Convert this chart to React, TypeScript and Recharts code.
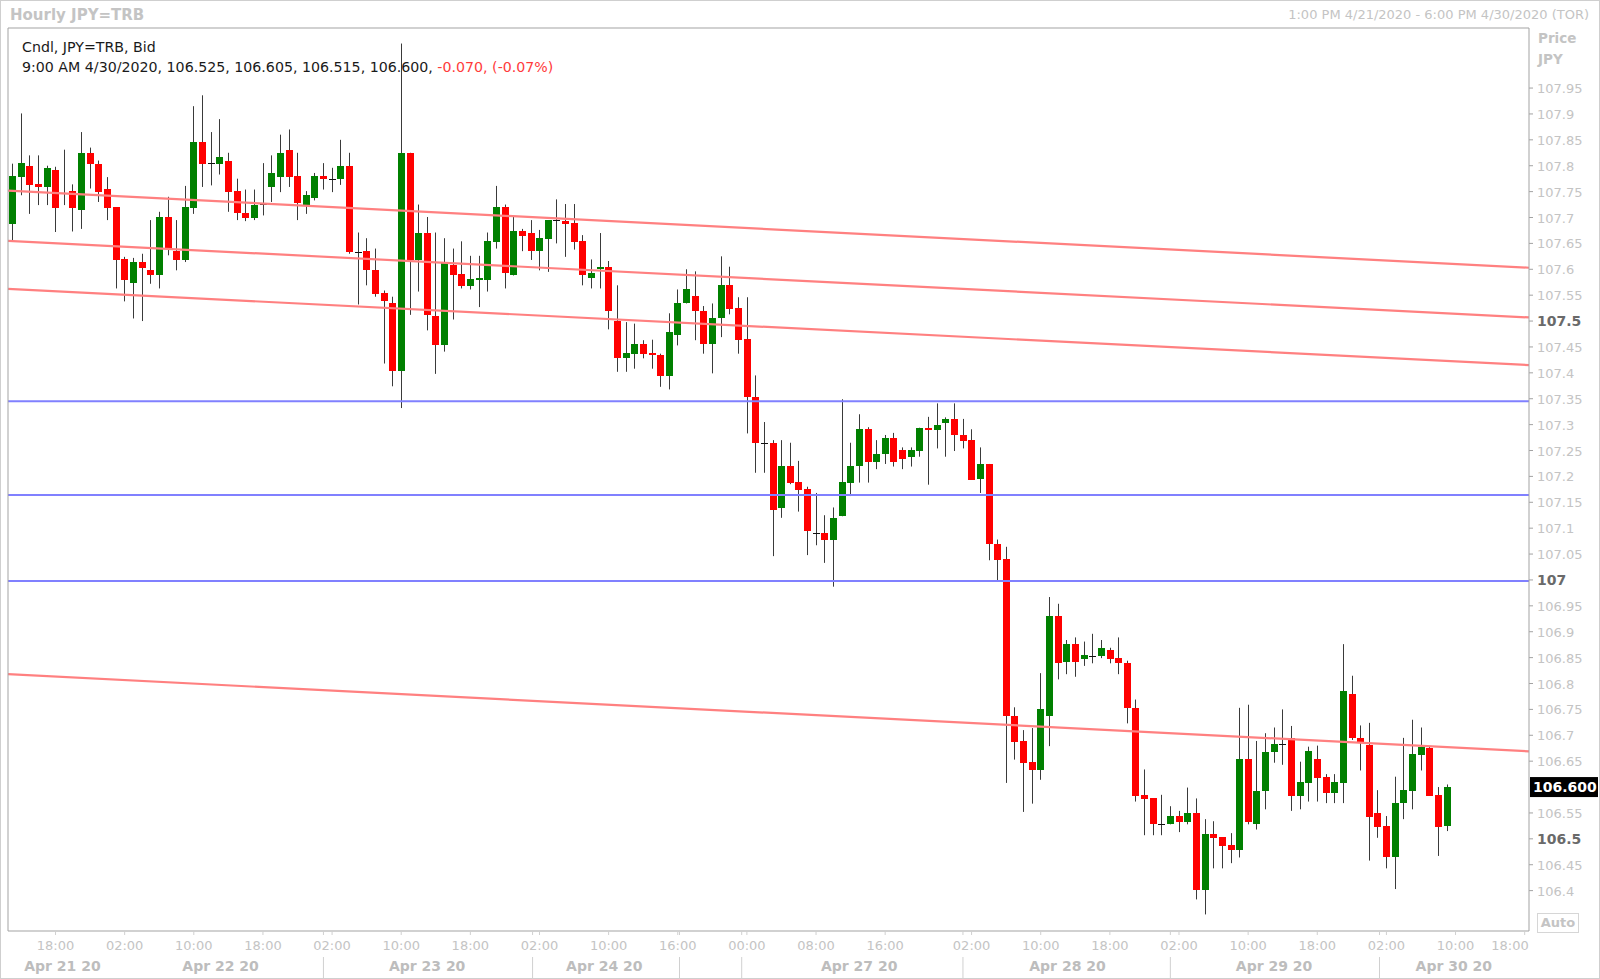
import React from 'react';
import { ComposedChart, Bar, XAxis, YAxis, ReferenceLine } from 'recharts';

// Hourly JPY=TRB bid candles, Apr 21 13:00 -> Apr 30 09:00 (trading hours only)
const OPEN = [
  107.688, 107.778, 107.800, 107.764, 107.759, 107.791, 107.748, 107.751, 107.714, 107.825,
  107.804, 107.755, 107.720, 107.619, 107.574, 107.615, 107.599, 107.588, 107.701, 107.635,
  107.617, 107.718, 107.846, 107.805, 107.804, 107.810, 107.751, 107.709, 107.699, 107.727,
  107.759, 107.778, 107.831, 107.780, 107.725, 107.738, 107.780, 107.775, 107.775, 107.800,
  107.634, 107.635, 107.598, 107.555, 107.535, 107.403, 107.825, 107.617, 107.671, 107.509,
  107.453, 107.608, 107.590, 107.568, 107.579, 107.579, 107.653, 107.720, 107.588, 107.673,
  107.671, 107.635, 107.658, 107.695, 107.693, 107.690, 107.654, 107.583, 107.600, 107.605,
  107.500, 107.429, 107.437, 107.455, 107.439, 107.435, 107.393, 107.473, 107.534, 107.549,
  107.520, 107.455, 107.505, 107.569, 107.526, 107.465, 107.354, 107.264, 107.264, 107.138,
  107.220, 107.190, 107.175, 107.090, 107.090, 107.077, 107.123, 107.188, 107.220, 107.291,
  107.228, 107.243, 107.275, 107.251, 107.238, 107.249, 107.294, 107.290, 107.304, 107.310,
  107.280, 107.270, 107.194, 107.224, 107.069, 107.040, 106.738, 106.689, 106.649, 106.633,
  106.738, 106.930, 106.842, 106.876, 106.847, 106.854, 106.854, 106.864, 106.849, 106.840,
  106.753, 106.585, 106.578, 106.528, 106.528, 106.544, 106.533, 106.549, 106.402, 106.509,
  106.503, 106.488, 106.478, 106.654, 106.528, 106.592, 106.668, 106.683, 106.694, 106.583,
  106.608, 106.654, 106.619, 106.589, 106.608, 106.780, 106.695, 106.681, 106.549, 106.524,
  106.464, 106.569, 106.592, 106.662, 106.676, 106.585, 106.525,
];
const HIGH = [
  107.804, 107.901, 107.820, 107.820, 107.800, 107.798, 107.831, 107.764, 107.865, 107.835,
  107.810, 107.778, 107.720, 107.624, 107.622, 107.630, 107.695, 107.711, 107.740, 107.695,
  107.761, 107.915, 107.936, 107.865, 107.890, 107.825, 107.775, 107.754, 107.754, 107.805,
  107.820, 107.860, 107.870, 107.825, 107.751, 107.786, 107.805, 107.796, 107.850, 107.825,
  107.671, 107.660, 107.640, 107.559, 107.547, 108.036, 107.825, 107.725, 107.701, 107.671,
  107.660, 107.640, 107.654, 107.626, 107.626, 107.671, 107.761, 107.725, 107.701, 107.678,
  107.695, 107.676, 107.695, 107.735, 107.726, 107.726, 107.666, 107.619, 107.670, 107.616,
  107.569, 107.498, 107.495, 107.463, 107.464, 107.437, 107.515, 107.561, 107.600, 107.596,
  107.529, 107.534, 107.625, 107.605, 107.546, 107.546, 107.395, 107.305, 107.270, 107.270,
  107.265, 107.230, 107.180, 107.168, 107.125, 107.140, 107.349, 107.265, 107.320, 107.295,
  107.270, 107.280, 107.284, 107.256, 107.256, 107.294, 107.315, 107.341, 107.314, 107.341,
  107.311, 107.291, 107.256, 107.224, 107.078, 107.064, 106.754, 106.710, 106.714, 106.820,
  106.967, 106.954, 106.884, 106.889, 106.881, 106.896, 106.884, 106.869, 106.889, 106.844,
  106.769, 106.634, 106.578, 106.585, 106.563, 106.554, 106.599, 106.578, 106.538, 106.534,
  106.503, 106.511, 106.753, 106.759, 106.689, 106.704, 106.715, 106.750, 106.718, 106.649,
  106.678, 106.680, 106.625, 106.625, 106.876, 106.815, 106.719, 106.724, 106.594, 106.544,
  106.620, 106.695, 106.730, 106.715, 106.678, 106.600, 106.605,
];
const LOW = [
  107.656, 107.743, 107.707, 107.724, 107.724, 107.672, 107.724, 107.673, 107.678, 107.756,
  107.730, 107.695, 107.563, 107.538, 107.505, 107.500, 107.572, 107.563, 107.627, 107.598,
  107.614, 107.707, 107.759, 107.762, 107.783, 107.711, 107.695, 107.693, 107.695, 107.704,
  107.730, 107.749, 107.759, 107.695, 107.707, 107.733, 107.754, 107.749, 107.763, 107.630,
  107.532, 107.569, 107.547, 107.418, 107.374, 107.332, 107.512, 107.557, 107.482, 107.398,
  107.441, 107.503, 107.563, 107.561, 107.527, 107.557, 107.640, 107.563, 107.588, 107.635,
  107.618, 107.598, 107.595, 107.650, 107.624, 107.638, 107.569, 107.563, 107.563, 107.484,
  107.402, 107.402, 107.408, 107.428, 107.408, 107.373, 107.368, 107.453, 107.534, 107.463,
  107.437, 107.399, 107.469, 107.513, 107.437, 107.283, 107.207, 107.207, 107.046, 107.120,
  107.185, 107.132, 107.048, 107.067, 107.033, 106.987, 107.123, 107.162, 107.188, 107.188,
  107.214, 107.224, 107.219, 107.214, 107.219, 107.238, 107.184, 107.254, 107.238, 107.249,
  107.254, 107.194, 107.168, 107.038, 106.997, 106.608, 106.653, 106.552, 106.568, 106.614,
  106.679, 106.808, 106.818, 106.813, 106.834, 106.839, 106.849, 106.839, 106.818, 106.723,
  106.572, 106.507, 106.507, 106.507, 106.528, 106.513, 106.528, 106.383, 106.354, 106.443,
  106.443, 106.453, 106.464, 106.528, 106.518, 106.557, 106.647, 106.643, 106.554, 106.557,
  106.572, 106.572, 106.569, 106.569, 106.569, 106.691, 106.632, 106.458, 106.502, 106.443,
  106.403, 106.538, 106.557, 106.632, 106.583, 106.467, 106.515,
];
const CLOSE = [
  107.780, 107.805, 107.762, 107.759, 107.796, 107.718, 107.748, 107.718, 107.825, 107.804,
  107.749, 107.718, 107.617, 107.579, 107.615, 107.602, 107.588, 107.701, 107.640, 107.617,
  107.720, 107.846, 107.804, 107.805, 107.816, 107.749, 107.709, 107.699, 107.724, 107.727,
  107.786, 107.825, 107.778, 107.728, 107.744, 107.780, 107.775, 107.775, 107.800, 107.633,
  107.634, 107.598, 107.553, 107.538, 107.403, 107.825, 107.617, 107.671, 107.512, 107.453,
  107.612, 107.588, 107.568, 107.581, 107.584, 107.654, 107.720, 107.593, 107.673, 107.664,
  107.635, 107.660, 107.695, 107.695, 107.688, 107.653, 107.589, 107.593, 107.605, 107.519,
  107.429, 107.439, 107.455, 107.437, 107.434, 107.393, 107.479, 107.534, 107.561, 107.519,
  107.455, 107.505, 107.569, 107.524, 107.463, 107.354, 107.264, 107.264, 107.135, 107.220,
  107.188, 107.174, 107.094, 107.090, 107.077, 107.120, 107.190, 107.220, 107.291, 107.228,
  107.244, 107.275, 107.228, 107.233, 107.251, 107.294, 107.290, 107.300, 107.310, 107.279,
  107.269, 107.194, 107.224, 107.069, 107.038, 106.738, 106.687, 106.647, 106.633, 106.750,
  106.930, 106.839, 106.876, 106.842, 106.855, 106.854, 106.869, 106.847, 106.839, 106.752,
  106.583, 106.577, 106.528, 106.528, 106.544, 106.533, 106.549, 106.402, 106.509, 106.502,
  106.487, 106.478, 106.654, 106.533, 106.593, 106.668, 106.683, 106.683, 106.583, 106.609,
  106.670, 106.618, 106.589, 106.610, 106.786, 106.694, 106.686, 106.543, 106.522, 106.464,
  106.570, 106.594, 106.664, 106.678, 106.583, 106.522, 106.600,
];

// time axis: one slot per traded hour, incl. the empty hours up to 18:00 Apr 30
const SLOTS = 176;
const TIME_TICKS = [5, 13, 21, 29, 37, 45, 53, 61, 69, 77, 85, 93, 101, 111, 119, 127, 135, 143, 151, 159, 167, 175];
const TIME_LABELS = [
  '18:00', '02:00', '10:00', '18:00', '02:00', '10:00', '18:00', '02:00', '10:00', '16:00', '00:00',
  '08:00', '16:00', '02:00', '10:00', '18:00', '02:00', '10:00', '18:00', '02:00', '10:00', '18:00',
];
const DAY_CENTERS = [5.8, 24.1, 48, 68.5, 98, 122.1, 146, 166.8];
const DAY_LABELS = ['Apr 21 20', 'Apr 22 20', 'Apr 23 20', 'Apr 24 20', 'Apr 27 20', 'Apr 28 20', 'Apr 29 20', 'Apr 30 20'];
const DAY_SEPARATORS = [36, 60.2, 77.2, 84.4, 110, 134, 158.2];

const PRICE_TICKS = [
  106.4, 106.45, 106.5, 106.55, 106.6, 106.65, 106.7, 106.75, 106.8, 106.85, 106.9, 106.95,
  107, 107.05, 107.1, 107.15, 107.2, 107.25, 107.3, 107.35, 107.4, 107.45, 107.5, 107.55,
  107.6, 107.65, 107.7, 107.75, 107.8, 107.85, 107.9, 107.95,
];
const BOLD_TICKS = [106.5, 107, 107.5];
const PRICE_DOMAIN = [106.322, 108.066];

// drawn studies: parallel channel lines (start, end) and horizontal levels
const CHANNEL_START = [107.752, 107.655, 107.562, 106.818];
const CHANNEL_END = [107.603, 107.507, 107.415, 106.669];
const LEVELS = [107.345, 107.164, 106.998];

const LAST_CLOSE = 106.6;

const FONT = "'DejaVu Sans', Verdana, sans-serif";
const FRAME = '#a3a3a3';
const LIGHT = '#c4c4c4';
const UP = '#008000';
const DOWN = '#ff0000';

const rows = Array.from({ length: SLOTS }, (_, i) =>
  i < OPEN.length
    ? { i, o: OPEN[i], h: HIGH[i], l: LOW[i], c: CLOSE[i], range: [LOW[i], HIGH[i]] }
    : { i }
);

const X_TICKS = [...TIME_TICKS, ...DAY_CENTERS, ...DAY_SEPARATORS].sort((a, b) => a - b);

const Candle = (props: any) => {
  const { x, y, width, height, payload } = props;
  if (!payload || payload.o == null) return null;
  const { o, h, l, c } = payload;
  const top = Math.min(y, y + height);
  const bottom = Math.max(y, y + height);
  const px = (v: number) => (h === l ? top : top + ((h - v) / (h - l)) * (bottom - top));
  const bx = Math.round(x + width / 2 - 3.5);
  const cx = bx + 3.5;
  const yo = px(o);
  const yc = px(c);
  const doji = Math.abs(o - c) < 0.0005;
  const bTop = Math.round(Math.min(yo, yc));
  const bBot = Math.round(Math.max(yo, yc));
  return (
    <g>
      <line x1={cx} x2={cx} y1={top} y2={bottom} stroke="#3a3a3a" strokeWidth={1} />
      {doji ? (
        <line x1={bx} x2={bx + 7} y1={Math.round(yo) + 0.5} y2={Math.round(yo) + 0.5} stroke="#111" />
      ) : (
        <rect x={bx} y={bTop} width={7} height={Math.max(1, bBot - bTop)} fill={c > o ? UP : DOWN} />
      )}
    </g>
  );
};

const TimeTick = (props: any) => {
  const { x, y, payload } = props;
  const v = payload.value;
  const ti = TIME_TICKS.indexOf(v);
  if (ti >= 0) {
    const last = ti === TIME_TICKS.length - 1;
    return (
      <g>
        <line x1={x} x2={x} y1={y} y2={y + 4} stroke="#d0d0d0" />
        <text x={last ? x + 4 : x} y={y + 19} textAnchor={last ? 'end' : 'middle'} fontSize={13} fontFamily={FONT} fill={LIGHT}>
          {TIME_LABELS[ti]}
        </text>
      </g>
    );
  }
  const di = DAY_CENTERS.indexOf(v);
  if (di >= 0) {
    return (
      <text x={x} y={y + 40} textAnchor="middle" fontSize={14} fontWeight="bold" fontFamily={FONT} fill="#bdbdbd">
        {DAY_LABELS[di]}
      </text>
    );
  }
  return (
    <g>
      <line x1={x} x2={x} y1={y} y2={y + 4} stroke="#d0d0d0" />
      <line x1={x} x2={x} y1={y + 26} y2={y + 47} stroke="#d0d0d0" />
    </g>
  );
};

const PriceTick = (props: any) => {
  const { x, y, payload } = props;
  const v = payload.value;
  if (v === LAST_CLOSE) {
    return (
      <g>
        <rect x={x + 1} y={y - 10} width={68} height={20} fill="#000" />
        <text x={x + 4} y={y + 5} fontSize={14} fontWeight="bold" fontFamily={FONT} fill="#fff">
          {LAST_CLOSE.toFixed(3)}
        </text>
      </g>
    );
  }
  const bold = BOLD_TICKS.includes(v);
  return (
    <g>
      <line x1={x} x2={x + 4} y1={y} y2={y} stroke={FRAME} />
      <text
        x={x + 8}
        y={y + 5}
        fontSize={bold ? 14 : 13}
        fontWeight={bold ? 'bold' : 'normal'}
        fontFamily={FONT}
        fill={bold ? '#6a6a6a' : LIGHT}
      >
        {String(v)}
      </text>
    </g>
  );
};

const App: React.FC = () => {
  return (
    <div
      style={{
        position: 'absolute',
        left: 0,
        top: 0,
        width: 1600,
        height: 979,
        boxSizing: 'border-box',
        border: '1px solid #cfcfcf',
        background: '#fff',
        fontFamily: FONT,
      }}
    >
      <div style={{ position: 'absolute', left: 0, top: 0 }}>
        <ComposedChart
          width={1598}
          height={977}
          data={rows}
          margin={{ top: 27, right: 0, bottom: 0, left: 7 }}
          barCategoryGap={0}
        >
          <XAxis
            xAxisId="t"
            dataKey="i"
            type="number"
            domain={[-0.5, SLOTS - 0.5]}
            allowDataOverflow
            ticks={X_TICKS}
            interval={0}
            tick={<TimeTick />}
            tickLine={false}
            tickSize={0}
            tickMargin={0}
            axisLine={{ stroke: FRAME }}
            height={47}
          />
          <XAxis xAxisId="c" dataKey="i" type="category" orientation="top" height={0} hide />
          <YAxis
            yAxisId="p"
            orientation="right"
            type="number"
            domain={PRICE_DOMAIN}
            allowDataOverflow
            ticks={PRICE_TICKS}
            interval={0}
            tick={<PriceTick />}
            tickLine={false}
            tickSize={0}
            tickMargin={0}
            axisLine={{ stroke: FRAME }}
            width={70}
          />
          <Bar xAxisId="c" yAxisId="p" dataKey="range" shape={<Candle />} isAnimationActive={false} />
          {CHANNEL_START.map((s, k) => (
            <ReferenceLine
              key={'ch' + k}
              xAxisId="t"
              yAxisId="p"
              segment={[
                { x: -0.5, y: s },
                { x: SLOTS - 0.5, y: CHANNEL_END[k] },
              ]}
              stroke="#ff8080"
              strokeWidth={2.2}
            />
          ))}
          {LEVELS.map((v, k) => (
            <ReferenceLine key={'lv' + k} xAxisId="t" yAxisId="p" y={v} stroke="#8080ff" strokeWidth={2} />
          ))}
          <ReferenceLine xAxisId="t" yAxisId="p" y={PRICE_DOMAIN[1]} stroke={FRAME} />
          <ReferenceLine xAxisId="t" yAxisId="p" x={-0.5} stroke={FRAME} />
        </ComposedChart>
      </div>

      <div style={{ position: 'absolute', left: 9, top: 5, fontSize: 15, fontWeight: 'bold', color: LIGHT }}>
        Hourly JPY=TRB
      </div>
      <div style={{ position: 'absolute', right: 10, top: 6, fontSize: 13, color: LIGHT }}>
        1:00 PM 4/21/2020 - 6:00 PM 4/30/2020 (TOR)
      </div>
      <div style={{ position: 'absolute', left: 21, top: 36, fontSize: 14.2, lineHeight: '20px', color: '#1a1a1a' }}>
        <div>Cndl, JPY=TRB, Bid</div>
        <div>
          9:00 AM 4/30/2020, 106.525, 106.605, 106.515, 106.600,{' '}
          <span style={{ color: '#ff3b3b' }}>-0.070, (-0.07%)</span>
        </div>
      </div>
      <div style={{ position: 'absolute', left: 1537, top: 27, fontSize: 13.5, fontWeight: 'bold', color: LIGHT, lineHeight: '21px' }}>
        <div>Price</div>
        <div>JPY</div>
      </div>
      <div
        style={{
          position: 'absolute',
          left: 1536,
          top: 912,
          width: 40,
          height: 18,
          border: '1px solid #d6d6d6',
          fontSize: 13,
          fontWeight: 'bold',
          color: LIGHT,
          textAlign: 'center',
          lineHeight: '18px',
        }}
      >
        Auto
      </div>
    </div>
  );
};

export default App;
